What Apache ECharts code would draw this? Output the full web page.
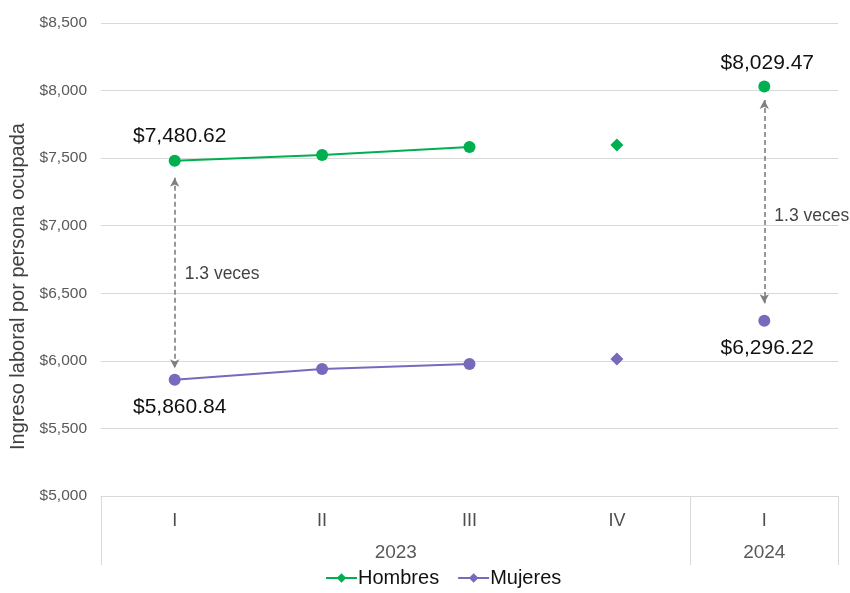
<!DOCTYPE html>
<html>
<head>
<meta charset="utf-8">
<script src="https://cdn.jsdelivr.net/npm/echarts@6/dist/echarts.min.js"></script>
<style>html,body{margin:0;padding:0;background:#fff}#c{width:850px;height:593px}</style>
</head>
<body>
<div id="c"></div>
<script>
const quarters = ['I', 'II', 'III', 'IV', 'I'];
const yearSlots = ['', '', '', '', '2023', '', '', '', '', '2024', ''];
const hombres = [7480.62, 7523, 7582, 7597, 8029.47];
const mujeres = [5860.84, 5939, 5976, 6013, 6296.22];
const yTicks = [5000, 5500, 6000, 6500, 7000, 7500, 8000, 8500];

const GREEN = '#00B050';
const PURPLE = '#7769BC';
const FONT = 'Liberation Sans, Arial, sans-serif';

const fmtMoney = v => '$' + v.toLocaleString('en-US', {minimumFractionDigits: 2, maximumFractionDigits: 2});
const fmtTick = v => '$' + v.toLocaleString('en-US');

// line part (2023 I-III) and marker part (IV diamond, 2024 circle)
const lineData = arr => arr.map((v, i) => i < 3 ? {value: v, symbol: 'circle'} : '-');
const markerData = arr => arr.map((v, i) => i === 3 ? {value: v, symbol: 'diamond', symbolSize: 13} : (i === 4 ? {value: v, symbol: 'circle'} : '-'));

const ratio = (a, b) => (a / b).toFixed(1) + ' veces';

const labelIdx = [0, 4];
const pointLabel = (arr, pos, dist, dx) => ({
  show: true,
  position: pos,
  distance: dist,
  offset: [dx, 0],
  fontSize: 21,
  color: '#111',
  fontFamily: FONT,
  formatter: p => labelIdx.includes(p.dataIndex) ? fmtMoney(arr[p.dataIndex]) : ''
});

const arrowLine = (idx, top, bottom) => ([
  {coord: [idx, top]}, {coord: [idx, bottom]}
]);

const chart = echarts.init(document.getElementById('c'));
chart.setOption({
  animation: false,
  textStyle: {fontFamily: FONT},
  grid: {left: 101, right: 12, top: 23, bottom: 97},
  legend: {
    bottom: 0,
    left: 320,
    data: ['Hombres', 'Mujeres'],
    itemWidth: 31,
    itemHeight: 12,
    itemGap: 18,
    textStyle: {fontSize: 20, color: '#111', padding: [0, 0, 0, -4]}
  },
  xAxis: [
    {
      type: 'category',
      data: quarters,
      boundaryGap: true,
      axisLine: {show: true, lineStyle: {color: '#D9D9D9', width: 1}},
      axisTick: {show: false},
      axisLabel: {color: '#4D4D4D', fontSize: 18, margin: 16}
    },
    {
      type: 'category',
      data: yearSlots,
      position: 'bottom',
      boundaryGap: false,
      axisLine: {show: false},
      axisTick: {
        show: true,
        length: 69,
        interval: i => i === 0 || i === 8 || i === 10,
        lineStyle: {color: '#D9D9D9', width: 1}
      },
      axisLabel: {color: '#595959', fontSize: 19, margin: 47, interval: 0}
    }
  ],
  yAxis: {
    type: 'value',
    min: yTicks[0],
    max: yTicks[yTicks.length - 1],
    interval: 500,
    name: 'Ingreso laboral por persona ocupada',
    nameLocation: 'middle',
    nameGap: 70,
    nameTextStyle: {color: '#404040', fontSize: 20, padding: [0, 0, 0, -54]},
    axisLine: {show: false},
    axisTick: {show: false},
    axisLabel: {color: '#595959', fontSize: 15.5, margin: 14, formatter: fmtTick},
    splitLine: {lineStyle: {color: '#D9D9D9', width: 1}}
  },
  series: [
    {
      name: 'Hombres',
      type: 'line',
      data: lineData(hombres),
      symbol: 'diamond',
      symbolSize: 12,
      itemStyle: {color: GREEN},
      lineStyle: {color: GREEN, width: 2},
      label: pointLabel(hombres, 'top', 8, 5),
      markLine: {
        silent: true,
        symbol: ['arrow', 'arrow'],
        symbolSize: [7, 9],
        lineStyle: {color: '#7F7F7F', type: [5, 3], width: 1.6},
        label: {show: false},
        data: [
          arrowLine(0, hombres[0] - 125, mujeres[0] + 85),
          arrowLine(4, hombres[4] - 100, mujeres[4] + 130)
        ]
      }
    },
    {
      name: 'Hombres',
      type: 'line',
      data: markerData(hombres),
      symbol: 'diamond',
      symbolSize: 12,
      itemStyle: {color: GREEN},
      lineStyle: {width: 0, opacity: 0},
      label: pointLabel(hombres, 'top', 7, 3)
    },
    {
      name: 'Mujeres',
      type: 'line',
      data: lineData(mujeres),
      symbol: 'diamond',
      symbolSize: 12,
      itemStyle: {color: PURPLE},
      lineStyle: {color: PURPLE, width: 2},
      label: pointLabel(mujeres, 'bottom', 11, 5)
    },
    {
      name: 'Mujeres',
      type: 'line',
      data: markerData(mujeres),
      symbol: 'diamond',
      symbolSize: 12,
      itemStyle: {color: PURPLE},
      lineStyle: {width: 0, opacity: 0},
      label: pointLabel(mujeres, 'bottom', 11, 3)
    },
    {
      name: 'ratio',
      type: 'scatter',
      symbolSize: 0,
      silent: true,
      data: [
        {value: [0, (hombres[0] + mujeres[0]) / 2 - 30], label: {formatter: ratio(hombres[0], mujeres[0])}},
        {value: [4, (hombres[4] + mujeres[4]) / 2 - 90], label: {formatter: ratio(hombres[4], mujeres[4])}}
      ],
      label: {show: true, position: 'right', distance: 10, fontSize: 17.5, color: '#111'}
    }
  ]
});
</script>
</body>
</html>
